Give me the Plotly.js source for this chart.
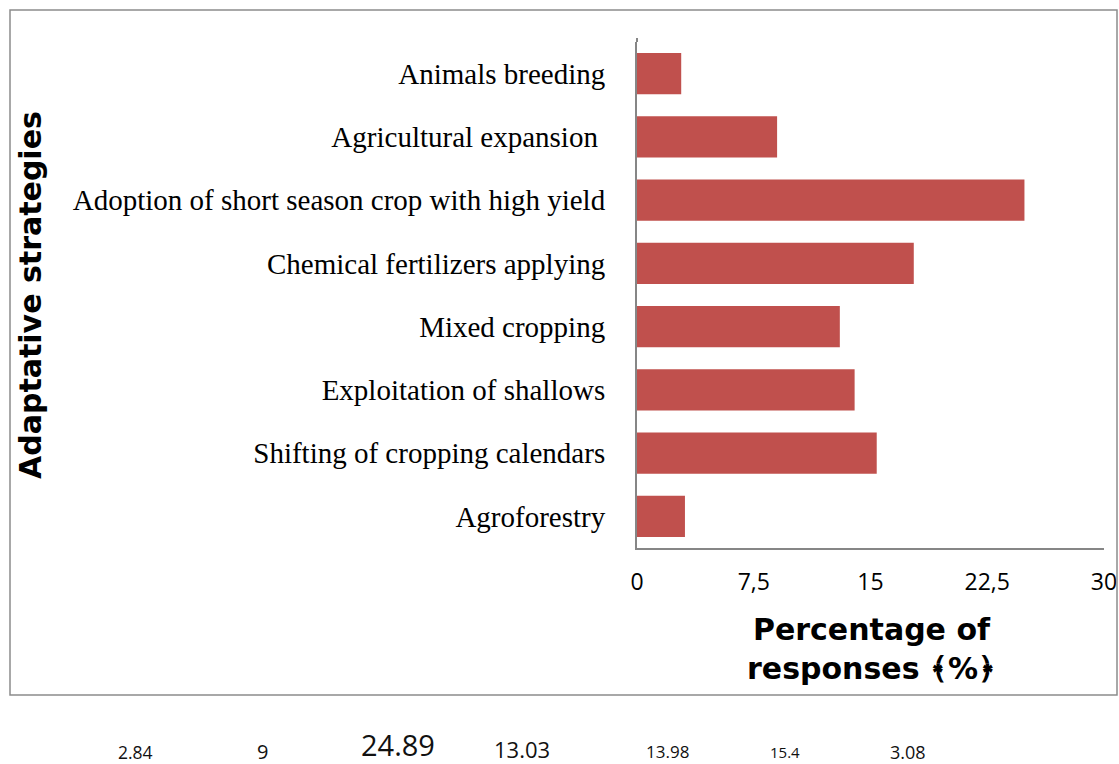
<!DOCTYPE html>
<html><head><meta charset="utf-8">
<script src="https://cdn.plot.ly/plotly-3.0.1.min.js"></script>
<style>body{margin:0;background:#fff}#chart{width:1119px;height:764px}</style>
</head><body><div id="chart"></div>
<script>
// Data (top to bottom as in the reference)
const categories = ["Animals breeding","Agricultural expansion ","Adoption of short season crop with high yield","Chemical fertilizers applying","Mixed cropping","Exploitation of shallows","Shifting of cropping calendars","Agroforestry"];
const values = [2.84, 9, 24.89, 17.78, 13.03, 13.98, 15.4, 3.08];
const tickValues = [0, 7.5, 15, 22.5, 30];
const strayLabels = ["2.84","9","24.89","13.03","13.98","15.4","3.08"];

const W = 1119, H = 764;
const m = {l:637, r:15, t:42, b:216};
const pw = W - m.l - m.r, ph = H - m.t - m.b;
const px = x => (x - m.l) / pw;
const py = y => (H - m.b - y) / ph;

const strayX = [135, 262, 398, 522, 667, 785, 908];
const strayY = [752, 751, 744, 749, 751.5, 752, 751.5];
const straySize = [17.5, 20, 29, 22, 17, 15, 18];

const ann = strayLabels.map((t,i) => ({
  text: t, xref:'paper', yref:'paper', x: px(strayX[i]), y: py(strayY[i]),
  showarrow:false, xanchor:'center', yanchor:'middle',
  font:{family:'Open Sans, sans-serif', size: straySize[i], color:'#111'}
}));
ann.push({
  text:'Adaptative strategies', xref:'paper', yref:'paper', x:px(30), y:py(295),
  textangle:-90, showarrow:false, xanchor:'center', yanchor:'middle',
  font:{family:'DejaVu Sans, sans-serif', size:30, color:'#000', weight:'bold'}
});
ann.push({
  text:'<b>Percentage of<br>responses \uFD3E%\uFD3F</b>', xref:'paper', yref:'paper', x:px(871), y:py(649),
  showarrow:false, xanchor:'center', yanchor:'middle',
  font:{family:'DejaVu Sans, sans-serif', size:30, color:'#000'}
});

const trace = {
  type:'bar', orientation:'h',
  y: categories.slice().reverse(), x: values.slice().reverse(),
  marker:{color:'#C0504D'}, hoverinfo:'none'
};

const layout = {
  width:W, height:H, margin:m,
  paper_bgcolor:'#fff', plot_bgcolor:'#fff',
  separators:', ',
  bargap:0.35, showlegend:false,
  xaxis:{range:[0,30], tickvals:tickValues, tickformat:'.1~f', showgrid:false, zeroline:false,
    showline:true, linecolor:'#868686', linewidth:2, ticks:'outside', ticklen:12, tickcolor:'rgba(0,0,0,0)',
    tickfont:{family:'Open Sans, sans-serif', size:23, color:'#000'}},
  yaxis:{type:'category', showgrid:false, zeroline:false, showline:true, linecolor:'#868686', linewidth:2,
    ticks:'outside', ticklen:24, tickcolor:'rgba(0,0,0,0)',
    tickfont:{family:'Liberation Serif, Times New Roman, serif', size:29, color:'#000'}},
  annotations: ann,
  shapes:[{type:'rect', xref:'paper', yref:'paper', x0:px(10), x1:px(1117), y0:py(695), y1:py(10),
    line:{color:'#8c8c8c', width:1.5}, fillcolor:'rgba(0,0,0,0)'},
    {type:'line', xref:'paper', yref:'paper', x0:0, x1:0, y0:1, y1:py(38), line:{color:'#868686', width:2}}]
};
Plotly.newPlot('chart', [trace], layout, {staticPlot:true});
</script></body></html>
